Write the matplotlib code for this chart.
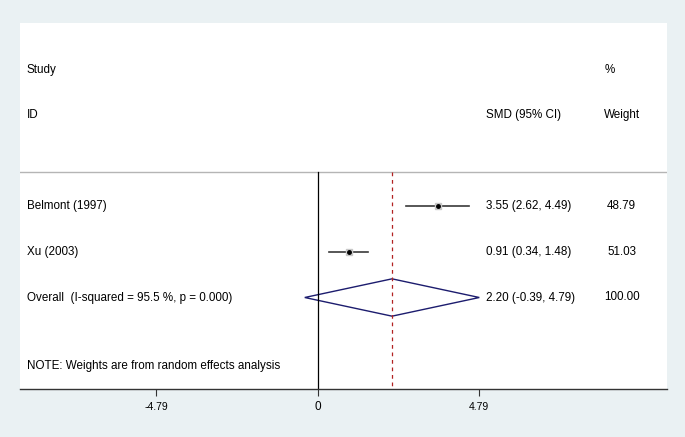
import numpy as np
import matplotlib.pyplot as plt
from matplotlib.patches import Polygon

plt.rcParams['font.family'] = ['Liberation Sans', 'DejaVu Sans']

# study data
studies = ['Belmont (1997)', 'Xu (2003)']
smd = [3.55, 0.91]
ci_lo = [2.62, 0.34]
ci_hi = [4.49, 1.48]
weights = ['48.79', '51.03']

# pooled estimate
overall_label = 'Overall  (I-squared = 95.5 %, p = 0.000)'
overall_smd = 2.20
overall_lo = -0.39
overall_hi = 4.79
overall_weight = '100.00'

xticks = [-4.79, 0, 4.79]
xticklabels = ['-4.79', '0', '4.79']

fs = 8.4
bg = '#eaf1f3'
fig = plt.figure(figsize=(6.85, 4.37), dpi=100, facecolor=bg)
ax = fig.add_axes([20/685, 48/437, 647/685, 366/437])
ax.set_facecolor('white')

ax.set_xlim(-8.84, 10.36)
ax.set_ylim(7.01, -1.03)

for s in ['top', 'right', 'left']:
    ax.spines[s].set_visible(False)
ax.spines['bottom'].set_color('#333333')
ax.spines['bottom'].set_linewidth(1.0)

tr = ax.get_yaxis_transform()  # x in axes fraction, y in data
col_id, col_ci, col_w = 0.0108, 0.720, 0.930

# header
ax.text(col_id, 0, 'Study', fontsize=fs, va='center', ha='left', transform=tr)
ax.text(col_id, 1, 'ID', fontsize=fs, va='center', ha='left', transform=tr)
ax.text(col_ci, 1, 'SMD (95% CI)', fontsize=fs, va='center', ha='left', transform=tr)
ax.text(0.903, 0, '%', fontsize=fs, va='center', ha='left', transform=tr)
ax.text(col_w, 1, 'Weight', fontsize=fs, va='center', ha='center', transform=tr)
ax.axhline(2.24, color='#b5b5b5', lw=1.0)

# reference lines
ax.plot([0, 0], [2.24, 7.01], color='black', lw=0.9)
ax.plot([overall_smd, overall_smd], [2.24, 7.01], color='#b22222', lw=0.9,
        ls=(0, (3, 3)))

# studies
for i, name in enumerate(studies):
    y = 3 + i
    ax.plot([ci_lo[i], ci_hi[i]], [y, y], color='#3a3a3a', lw=1.2)
    ax.plot(smd[i], y, marker='s', ms=4, color='#c8c8c8', mec='#c8c8c8')
    ax.plot(smd[i], y, marker='o', ms=2.5, color='black')
    ax.text(col_id, y, name, fontsize=fs, va='center', ha='left', transform=tr)
    ax.text(col_ci, y, f'{smd[i]:.2f} ({ci_lo[i]:.2f}, {ci_hi[i]:.2f})',
            fontsize=fs, va='center', ha='left', transform=tr)
    ax.text(col_w, y, weights[i], fontsize=fs, va='center', ha='center', transform=tr)

# overall diamond
yo = 5
h = 0.41
diamond = Polygon([[overall_lo, yo], [overall_smd, yo - h], [overall_hi, yo],
                   [overall_smd, yo + h]], closed=True, fill=False,
                  edgecolor='#1c1c6e', lw=1.0)
ax.add_patch(diamond)
ax.text(col_id, yo, overall_label, fontsize=fs, va='center', ha='left', transform=tr)
ax.text(col_ci, yo, f'{overall_smd:.2f} ({overall_lo:.2f}, {overall_hi:.2f})',
        fontsize=fs, va='center', ha='left', transform=tr)
ax.text(col_w, yo, overall_weight, fontsize=fs, va='center', ha='center', transform=tr)

ax.text(col_id, 6.5, 'NOTE: Weights are from random effects analysis', fontsize=fs,
        va='center', ha='left', transform=tr)

ax.set_yticks([])
ax.set_xticks(xticks)
ax.set_xticklabels(xticklabels, fontsize=7.5)
ax.get_xticklabels()[1].set_fontsize(8.5)
ax.tick_params(axis='x', length=5, width=0.8, color='#333333', pad=4)

fig.savefig('out.png', dpi=100, facecolor=bg)
